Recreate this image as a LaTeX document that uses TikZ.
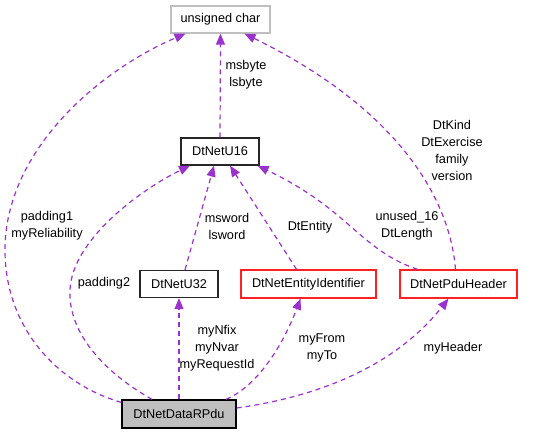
\documentclass[tikz,border=0pt]{standalone}
\usepackage{fontspec}
\setmainfont{Liberation Sans}
\usetikzlibrary{arrows.meta}
\definecolor{edgepurple}{HTML}{9A32CD}
\definecolor{boxgray}{HTML}{BFBFBF}
\definecolor{boxred}{HTML}{FF2020}
\begin{document}
\begin{tikzpicture}[x=1pt,y=-1pt,
  font=\fontsize{12.7}{17}\selectfont,
  box/.style={draw=black!85,line width=1.3pt,inner sep=0pt,minimum height=27pt},
  redbox/.style={box,draw=boxred},
  graybox/.style={box,draw=boxgray},
  link/.style={draw=edgepurple,line width=1.2pt,dash pattern=on 5pt off 4pt,-{Triangle[length=11pt,width=9pt]}},
  lbl/.style={align=center,inner sep=0pt}]
\useasboundingbox (0,0) rectangle (544,435);
% nodes
\node[graybox,minimum width=99pt] (uc) at (220.5,19.5) {unsigned char};
\node[box,minimum width=78pt] (u16) at (220,151.5) {DtNetU16};
\node[box,minimum width=78pt] (u32) at (179,284) {DtNetU32};
\node[redbox,minimum width=135pt,minimum height=28pt] (ent) at (308.5,284) {DtNetEntityIdentifier};
\node[redbox,minimum width=117pt,minimum height=28pt] (pdu) at (458.5,284) {DtNetPduHeader};
\node[box,draw=black,fill=boxgray,minimum width=114pt,minimum height=28pt] (rpdu) at (179,414) {DtNetDataRPdu};
% connectors
\draw[link] (u16.north) -- (uc.south);
\draw[link] ([yshift=-3pt]rpdu.north west) .. controls (60,385) and (5,330) .. (5,250)
   .. controls (5,150) and (100,70) .. ([xshift=-35pt]uc.south);
\draw[link] ([xshift=-27pt]rpdu.north) .. controls (100,370) and (68,330) .. (70,290)
   .. controls (72,240) and (140,190) .. ([xshift=-30pt]u16.south);
\draw[link] ([xshift=6pt]u32.north) -- ([xshift=-6pt]u16.south);
\draw[link] ([xshift=-12pt]ent.north) -- ([xshift=10pt]u16.south);
\draw[link] ([xshift=-41pt]pdu.north) .. controls (360,250) and (350,210) .. ([xshift=-2pt]u16.south east);
\draw[link] ([xshift=-3pt]pdu.north) .. controls (450,200) and (400,110) .. ([xshift=24pt]uc.south);
\draw[link] (rpdu.north) -- (u32.south);
\draw[link] ([xshift=47pt]rpdu.north) .. controls (260,385) and (285,340) .. ([xshift=-8pt]ent.south);
\draw[link] ([yshift=6pt]rpdu.east) .. controls (330,395) and (400,360) .. ([xshift=-10pt]pdu.south);
% labels
\node[lbl] (l1) at (246,75) {msbyte\\lsbyte};
\node[lbl] (l2) at (452,150) {DtKind\\DtExercise\\family\\version};
\node[lbl] (l3) at (47,226) {padding1\\myReliability};
\node[lbl] (l4) at (227,226) {msword\\lsword};
\node[lbl] (l5) at (310,227) {DtEntity};
\node[lbl] (l6) at (407,226) {unused\_16\\DtLength};
\node[lbl] (l7) at (104,283) {padding2};
\node[lbl] (l8) at (217,348) {myNfix\\myNvar\\myRequestId};
\node[lbl] (l9) at (322,348) {myFrom\\myTo};
\node[lbl] (l10) at (453,348) {myHeader};
\end{tikzpicture}
\end{document}
